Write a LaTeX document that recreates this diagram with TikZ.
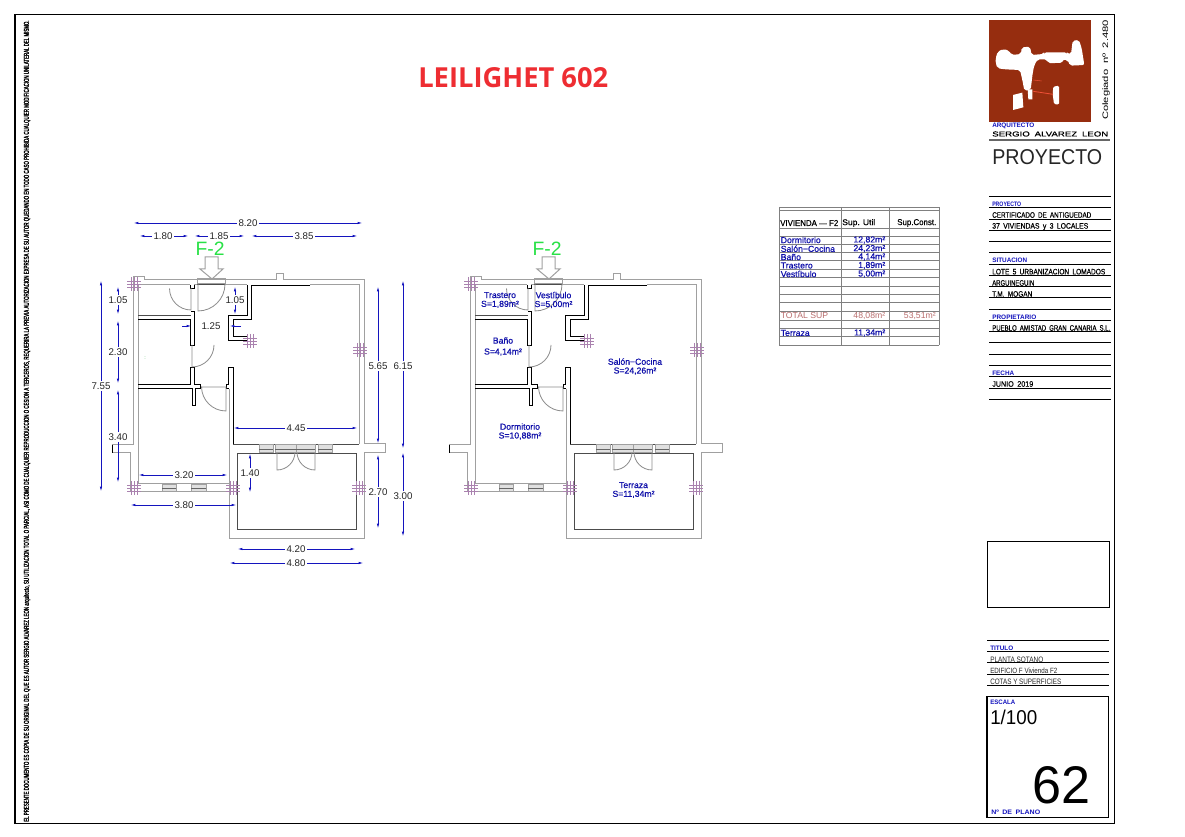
\documentclass[tikz,border=0pt]{standalone}
\usepackage{fontspec}
\usepackage{graphicx}
\setmainfont{Liberation Sans}
\newfontfamily\titlefont{Open Sans}
\newfontfamily\roomfont[FakeBold=0.5]{Liberation Sans}
\newfontfamily\marginfont[FakeBold=2.5]{Liberation Sans}
\usetikzlibrary{arrows.meta}
\definecolor{dimblue}{RGB}{20,20,190}
\definecolor{roomblue}{RGB}{15,15,170}
\definecolor{wallgrey}{RGB}{160,160,160}
\definecolor{crosspurple}{RGB}{170,130,175}
\definecolor{fgreen}{RGB}{40,225,70}
\definecolor{logored}{RGB}{150,45,15}
\definecolor{logoline}{RGB}{240,80,55}
\definecolor{titlered}{RGB}{238,45,50}
\definecolor{totalred}{RGB}{185,110,110}
\tikzset{
  gw/.style={draw=wallgrey,line width=0.75pt},
  dw/.style={draw=black!70,line width=0.7pt},
  bw/.style={draw=black,line width=0.7pt},
  doorline/.style={draw=black!45,line width=0.6pt},
  crossline/.style={draw=crosspurple,line width=0.45pt},
  dimline/.style={draw=dimblue,line width=0.6pt,{Latex[length=4pt,width=1.7pt]}-{Latex[length=4pt,width=1.7pt]}},
  dimlab/.style={fill=white,inner sep=1pt,font=\fontsize{7.3}{8}\selectfont,text=black!85},
  room/.style={align=center,inner sep=0pt,font=\roomfont\fontsize{6.5}{6.6}\selectfont,text=roomblue},
  tline/.style={draw=black!50,line width=0.5pt},
  tcell/.style={inner sep=0pt,font=\roomfont\fontsize{6.5}{8}\selectfont,text=roomblue},
  rule/.style={draw=black,line width=0.6pt},
}
\newcommand{\fitt}[6]{\node[anchor=west,inner sep=0pt,text=#5] at (#1,#2) {\resizebox{\dimexpr#3pt*3/4\relax}{\dimexpr#4pt*3/4\relax}{#6}};}
\newcommand{\hdim}[5]{\draw[dimline] (#1,#3)--(#2,#3); \node[dimlab] at (#4,#3) {#5};}
\newcommand{\vdim}[5]{\draw[dimline] (#3,#1)--(#3,#2); \node[dimlab] at (#3,#4) {#5};}
\newcommand{\xh}[2]{\foreach \d in {-3,0,3} {\draw[crossline] (#1-7,#2+\d)--(#1+7,#2+\d); \draw[crossline] (#1+\d,#2-7)--(#1+\d,#2+7);}}
\newcommand{\winb}[4]{\fill[black!12] (#1,#3) rectangle (#2,#4); \draw[gw] (#1,#3) rectangle (#2,#4); \draw[draw=black!60,line width=0.6pt] (#1,{(#3+#4)/2}) -- (#2,{(#3+#4)/2});}
\newcommand{\logoshape}{%
\fill[white,rounded corners=1.5pt] (32,85)--(38,65)--(55,57)--(72,62)--(80,75)--(108,72)--(110,52)--(135,50)--(140,75)--(175,72)--(178,67)--(245,67)--(248,72)--(258,72)--(263,32)--(282,30)--(290,55)--(298,105)--(255,107)--(248,90)--(232,90)--(232,98)--(190,100)--(185,88)--(158,88)--(148,105)--(143,130)--(137,180)--(118,182)--(112,150)--(105,120)--(60,118)--(38,115)--(32,100)--cycle;
\fill[white] (84,195)--(112,188)--(115,232)--(84,240)--cycle;
\fill[white] (128,178)--(142,178)--(142,208)--(130,208)--cycle;
\fill[white,rounded corners=1pt] (205,170)--(222,167)--(222,224)--(207,222)--(203,192)--cycle;
\draw[logoline,line width=0.6pt] (145,184)--(204,193);
\draw[logoline,line width=0.4pt] (145,150)--(170,153);
}
\newcommand{\planbase}{%
  \draw[gw] (133,445)--(133,277)--(144,277)--(144,280)--(276,280)--(276,274)--(283,274)--(283,280)--(364,280)--(364,444)--(385,444)--(385,453)--(364,453)--(364,538)--(229,538)--(229,389);
  \draw[gw] (112,445)--(133,445);
  \draw[gw] (112,453)--(130.5,453)--(130.5,492)--(229,492);
  \draw[bw] (112,445)--(112,453);
  \draw[gw] (138,285)--(138,484)--(229,484);
  \draw[gw] (138,285)--(190,285);
  \draw[gw] (194,285)--(197,285);
  \draw[gw] (225,285)--(247,285);
  \draw[gw] (310,285)--(359,285)--(359,444);
  \draw[dw] (233,444)--(359,444);
  \draw[dw] (237,453)--(237,529)--(356,529)--(356,453)--cycle;
  \draw[gw] (197,279) rectangle (225,284);
  \draw[dw] (197,284)--(225,284);
  \draw[bw] (247,285)--(247,315)--(228.7,315)--(228.7,340)--(247,340);
  \draw[bw] (310,285)--(251,285)--(251,319.3)--(233.3,319.3)--(233.3,336)--(247,336);
  \draw[bw] (190,285)--(190,288)--(194,288)--(194,285);
  \draw[dw] (138,315)--(191,315);
  \draw[bw] (138,319.3)--(190,319.3)--(190,345)--(194,345)--(194,311)--(191,311);
  \draw[bw] (138,384)--(190,384)--(190,367.3)--(194,367.3)--(194,384)--(200.7,384)--(200.7,388.7)--(195.3,388.7)--(195.3,405)--(192,405)--(192,388.7)--(138,388.7);
  \draw[bw] (228.7,384)--(228.7,367.3)--(233.3,367.3)--(233.3,444);
  \draw[bw] (228.7,384)--(226,384)--(226,388.7)--(228.7,388.7);
  \draw[doorline] (198,284)--(198,311) arc[start angle=90,end angle=0,radius=27];
  \draw[doorline] (191,288)--(191,310) arc[start angle=90,end angle=180,radius=21.5];
  \draw[doorline] (192,345)--(192,367) arc[start angle=90,end angle=0,radius=22];
  \draw[doorline] (201,387)--(226,387)--(226,411) arc[start angle=90,end angle=180,radius=24.5];
  \draw[doorline] (277,453)--(277,470) arc[start angle=90,end angle=0,radius=18];
  \draw[doorline] (315,453)--(315,470) arc[start angle=90,end angle=180,radius=18];
  \winb{162}{176}{485}{492}
  \winb{191}{206}{485}{492}
  \winb{259}{273}{445}{453}
  \winb{275}{296}{445}{453}
  \winb{296}{315}{445}{453}
  \winb{318}{332}{445}{453}
  \xh{134}{284}\xh{250}{341}\xh{360}{350}\xh{134}{488}\xh{233}{488}\xh{359}{488}
  \node[inner sep=0pt,font=\fontsize{14.5}{16}\selectfont,text=fgreen] at (210,248.5) {F-2};
  \draw[gw] (205,257)--(218,257)--(218,269)--(223,269)--(212,279)--(200,269)--(205,269)--cycle;
}
\begin{document}
\begin{tikzpicture}[x=0.75pt,y=-0.75pt]
\useasboundingbox (0,0) rectangle (1185,837);
\fill[white] (0,0) rectangle (1185,837);
\draw[draw=black,line width=0.9pt] (15,14.5) rectangle (1114.5,823.5);
\node[rotate=90,inner sep=0pt,anchor=west] at (27,822) {\resizebox{601pt}{3.9pt}{\marginfont EL PRESENTE DOCUMENTO ES COPIA DE SU ORIGINAL DEL QUE ES AUTOR SERGIO ALVAREZ LEON arquitecto, SU UTILIZACION TOTAL O PARCIAL, ASI COMO DE CUALQUIER REPRODUCCION O CESION A TERCEROS, REQUERIRA LA PREVIA AUTORIZACION EXPRESA DE SU AUTOR QUEDANDO EN TODO CASO PROHIBIDA CUALQUIER MODIFICACION UNILATERAL DEL MISMO.}};
\fitt{418}{78}{190}{20}{titlered}{\titlefont\bfseries LEILIGHET 602}
\planbase
\node[inner sep=0pt,font=\fontsize{4}{4}\selectfont,text=fgreen!60!gray] at (145,358) {:};
\hdim{133}{363}{223}{248}{8.20}
\hdim{139}{189}{236}{163}{1.80}
\hdim{194}{245}{236}{219}{1.85}
\hdim{251}{358}{236}{304}{3.85}
\vdim{286}{315}{118}{300}{1.05}
\vdim{320}{384}{118}{352}{2.30}
\vdim{389}{483}{118}{437}{3.40}
\vdim{280}{492}{101}{386}{7.55}
\vdim{286}{315}{235}{300}{1.05}
\draw[draw=dimblue,line width=0.6pt,-{Latex[length=4pt,width=1.7pt]}] (182,326)--(192,326);
\draw[draw=dimblue,line width=0.6pt,-{Latex[length=4pt,width=1.7pt]}] (241,326)--(229,326);
\node[dimlab] at (211,326) {1.25};
\vdim{286}{444}{378}{366}{5.65}
\vdim{280}{449}{403}{366}{6.15}
\vdim{454}{529}{378}{492}{2.70}
\vdim{452}{537}{403}{496}{3.00}
\hdim{138}{228}{475}{184}{3.20}
\hdim{130}{237}{505}{184}{3.80}
\hdim{233}{358}{428}{296}{4.45}
\vdim{453}{493}{250}{473}{1.40}
\hdim{237}{356}{549}{296}{4.20}
\hdim{229}{364}{563}{296}{4.80}
\begin{scope}[shift={(337,0)}]
\planbase
\end{scope}
\node[room] at (500,300) {Trastero\\S=1,89m²};
\node[room] at (553.5,300) {Vestíbulo\\S=5,00m²};
\node[room,font=\roomfont\fontsize{6.5}{8.2}\selectfont] at (503,346.5) {Baño\\S=4,14m²};
\node[room] at (635,366.5) {Salón−Cocina\\S=24,26m²};
\node[room] at (520,431.5) {Dormitorio\\S=10,88m²};
\node[room] at (633.5,490) {Terraza\\S=11,34m²};
\foreach \yy in {207,210,228,236,244.3,252.3,260.7,269.3,277.3,286,294.3,302.7,311.7,320.7,328.3,336.7,345} {\draw[tline] (779,\yy)--(939,\yy);}
\foreach \xx in {779,841,889,939} {\draw[tline] (\xx,207)--(\xx,345);}
\fitt{780}{223}{58}{6}{black}{\roomfont VIVIENDA — F2}
\fitt{842}{223}{33}{6}{black}{\roomfont Sup. Util}
\fitt{897}{223}{39}{6}{black}{\roomfont Sup.Const.}
\node[tcell,anchor=west] at (780.5,240) {Dormitorio};
\node[tcell,anchor=west] at (780.5,248.7) {Salón−Cocina};
\node[tcell,anchor=west] at (780.5,257) {Baño};
\node[tcell,anchor=west] at (780.5,265.5) {Trastero};
\node[tcell,anchor=west] at (780.5,274) {Vestíbulo};
\node[tcell,anchor=west] at (780.5,333) {Terraza};
\node[tcell,anchor=east] at (885.5,240) {12,82m²};
\node[tcell,anchor=east] at (885.5,248.7) {24,23m²};
\node[tcell,anchor=east] at (885.5,257) {4,14m²};
\node[tcell,anchor=east] at (885.5,265.5) {1,89m²};
\node[tcell,anchor=east] at (885.5,274) {5,00m²};
\node[tcell,anchor=east] at (885.5,333) {11,34m²};
\node[tcell,anchor=west,text=totalred,font=\fontsize{6.5}{8}\selectfont] at (780.5,316) {TOTAL SUP};
\node[tcell,anchor=east,text=totalred,font=\fontsize{6.5}{8}\selectfont] at (885.5,316) {48,08m²};
\node[tcell,anchor=east,text=totalred,font=\fontsize{6.5}{8}\selectfont] at (936,316) {53,51m²};
\fill[logored] (989,20) rectangle (1091,122);
\begin{scope}[shift={(985,30)},x=0.25pt,y=-0.25pt]
\logoshape
\end{scope}
\node[rotate=90,inner sep=0pt] at (1106,70) {\resizebox{75pt}{4.3pt}{Colegiado\enspace nº\enspace 2.480}};
\fitt{992}{126}{42}{4.5}{dimblue}{\bfseries ARQUITECTO}
\fitt{992}{134}{116}{5}{black}{\roomfont SERGIO\enspace ALVAREZ\enspace LEON}
\draw[draw=black!60,line width=1pt] (989,140)--(1110,140);
\fitt{992}{157}{110}{15}{black!85}{PROYECTO}
\foreach \yy in {196,207.7,219.3,230,241.7,252.7,264,275.3,286.7,297.7,309,320.3,331.7,342.7,354,365.3,376.7,388,399.3} {\draw[rule] (989,\yy)--(1111,\yy);}
\fitt{992}{204}{29}{4.5}{dimblue}{\bfseries PROYECTO}
\fitt{992}{215}{99}{5.5}{black}{\roomfont CERTIFICADO\enspace DE\enspace ANTIGUEDAD}
\fitt{992}{226.7}{96}{5.5}{black}{\roomfont 37\enspace VIVIENDAS\enspace y\enspace 3\enspace LOCALES}
\fitt{992}{260}{35}{4.5}{dimblue}{\bfseries SITUACION}
\fitt{992}{271.7}{113}{5.5}{black}{\roomfont LOTE\enspace 5\enspace URBANIZACION\enspace LOMADOS}
\fitt{992}{283}{42}{5.5}{black}{\roomfont ARGUINEGUIN}
\fitt{992}{294}{40}{5.5}{black}{\roomfont T.M.\enspace MOGAN}
\fitt{992}{317}{44}{4.5}{dimblue}{\bfseries PROPIETARIO}
\fitt{992}{328}{118}{5.5}{black}{\roomfont PUEBLO\enspace AMISTAD\enspace GRAN\enspace CANARIA\enspace S.L.}
\fitt{992}{373}{22}{4.5}{dimblue}{\bfseries FECHA}
\fitt{992}{384}{41}{5.5}{black}{\roomfont JUNIO\enspace 2019}
\draw[draw=black,line width=0.7pt] (987,541) rectangle (1109,607);
\foreach \yy in {640,651.7,662.7,674,685.3} {\draw[rule] (987,\yy)--(1108.5,\yy);}
\fitt{990}{648}{23}{4.5}{dimblue}{\bfseries TITULO}
\fitt{990}{659.3}{53}{5.5}{black!85}{PLANTA SOTANO}
\fitt{990}{670.7}{67}{5.5}{black!85}{EDIFICIO F Vivienda F2}
\fitt{990}{681.7}{71}{5.5}{black!85}{COTAS Y SUPERFICIES}
\draw[draw=black,line width=0.8pt] (987,696.7) rectangle (1108.7,817.7);
\fitt{990}{702.7}{25}{4.5}{dimblue}{\bfseries ESCALA}
\fitt{990}{717}{47}{14.5}{black}{1/100}
\fitt{1032}{785}{58}{37}{black}{62}
\fitt{991}{812}{49}{4.5}{dimblue}{\bfseries Nº\enspace DE\enspace PLANO}
\end{tikzpicture}
\end{document}
